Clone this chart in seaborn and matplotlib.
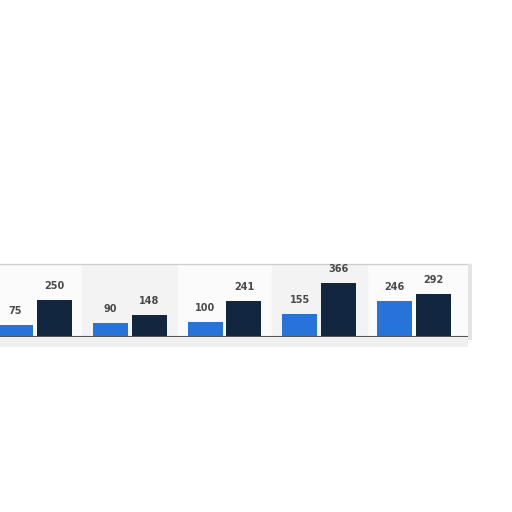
import pandas as pd
import seaborn as sns
import matplotlib.pyplot as plt
from matplotlib.patches import Rectangle

# Values
groups = ["G1", "G2", "G3", "G4", "G5"]
series_a = [75, 90, 100, 155, 246]
series_b = [250, 148, 241, 366, 292]
series_names = ["A", "B"]
colors = ["#2873d9", "#12263f"]

df = pd.DataFrame({
    "group": groups * 2,
    "series": [series_names[0]] * len(groups) + [series_names[1]] * len(groups),
    "value": series_a + series_b,
})

fig = plt.figure(figsize=(5.12, 5.12), dpi=100)
fig.patch.set_facecolor("white")

# torn paper shadow under the strip
fig.patches.append(Rectangle((0.0, 0.322), 0.915, 0.02, transform=fig.transFigure,
                             facecolor="#efefef", edgecolor="none", zorder=0))
fig.patches.append(Rectangle((0.915, 0.335), 0.006, 0.15, transform=fig.transFigure,
                             facecolor="#e4e4e4", edgecolor="none", zorder=0))

ax = fig.add_axes([0.0, 1 - 337 / 512, 470 / 512, 73 / 512])
ax.set_facecolor("#fbfbfb")

# alternating column bands
for i in range(len(groups)):
    if i % 2 == 1:
        ax.axvspan(i - 0.5, i + 0.5, color="#f3f3f3", zorder=0)

sns.barplot(data=df, x="group", y="value", hue="series", palette=colors,
            saturation=1, width=0.82, gap=0.1, ax=ax, legend=False, zorder=2)

for cont in ax.containers:
    for bar in cont:
        h = bar.get_height()
        ax.annotate(f"{h:.0f}", (bar.get_x() + bar.get_width() / 2, h),
                    xytext=(0, 6.5), textcoords="offset points",
                    ha="center", va="bottom", fontsize=7, fontweight="bold",
                    color="#4a4a4a")

ax.set_xlim(-0.369, 4.59)
ax.set_ylim(-7, 500)
ax.axhline(0, color="#555555", lw=0.8, zorder=3)
ax.set_xticks([])
ax.set_yticks([])
ax.set_xlabel("")
ax.set_ylabel("")
for side, sp in ax.spines.items():
    sp.set_color("#cfcfcf")
    sp.set_linewidth(1.0)
ax.spines["left"].set_visible(False)

fig.savefig("out.png", dpi=100, facecolor="white")
